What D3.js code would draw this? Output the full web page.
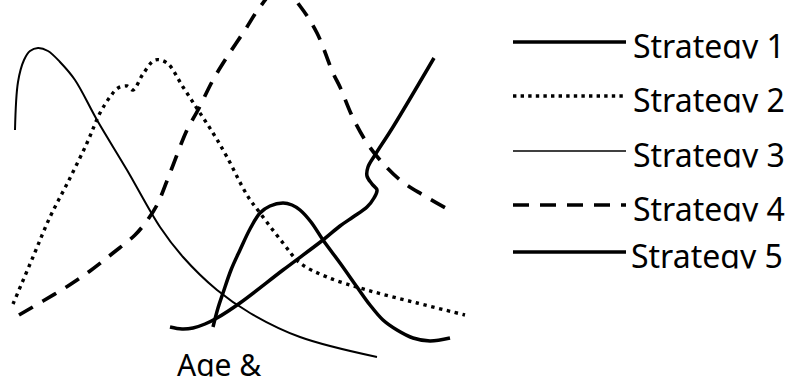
<!DOCTYPE html>
<html>
<head>
<meta charset="utf-8">
<script src="https://cdn.jsdelivr.net/npm/d3@7"></script>
<style>
  body { margin: 0; background: #fff; }
  svg { display: block; }
  text { font-family: "Noto Sans", "Open Sans", sans-serif; fill: #000; }
</style>
</head>
<body>
<svg class="chart"></svg>
<script>
var width = 787;
var height = 383;

// strategy names (legend order)
var strategies = ["Strategy 1", "Strategy 2", "Strategy 3", "Strategy 4", "Strategy 5"];

// x / y values of each curve (x: 0-46, y: 0-36)
var s1x = [20.3, 20.8, 21.3, 22.1, 23.0, 24.0, 25.0, 26.0, 27.3, 28.2, 29.0, 30.1, 31.3, 33.0, 34.7, 36.0, 37.3, 38.7, 40.3, 42.0, 44.0];
var s1y = [3.3, 5.2, 6.7, 9.0, 11.0, 13.1, 14.7, 15.4, 15.7, 15.5, 15.0, 13.8, 12.0, 9.7, 7.3, 5.5, 4.0, 3.0, 2.2, 1.9, 2.2];

var s2x = [0.3, 2.3, 4.0, 5.8, 7.7, 9.0, 10.0, 10.8, 11.7, 12.3, 13.3, 14.5, 15.7, 17.3, 18.8, 20.3, 21.7, 23.7, 25.0, 27.3, 29.0, 31.7, 35.7, 40.7, 45.5];
var s2y = [5.6, 10.3, 14.3, 17.8, 21.7, 24.7, 26.3, 27.2, 27.4, 27.0, 28.6, 30.0, 29.7, 27.3, 25.0, 22.7, 20.3, 16.5, 14.7, 11.7, 9.7, 8.3, 7.0, 5.7, 4.5];

var s3x = [0.5, 0.8, 1.4, 2.0, 2.8, 3.8, 5.0, 6.5, 8.7, 11.7, 15.0, 17.3, 20.7, 24.0, 29.0, 36.7];
var s3y = [23.0, 27.8, 30.0, 30.9, 31.2, 30.9, 29.8, 28.0, 24.0, 19.0, 13.3, 10.3, 7.0, 4.7, 2.3, 0.3];

var s4x = [0.9, 3.3, 5.8, 8.0, 10.3, 12.5, 13.6, 14.7, 16.0, 17.7, 18.8, 20.3, 21.7, 23.5, 25.0, 27.1, 29.0, 30.7, 32.3, 33.0, 34.3, 35.7, 37.0, 39.0, 41.3, 44.3];
var s4y = [4.5, 5.9, 7.4, 8.9, 10.7, 12.5, 13.8, 15.5, 18.7, 23.0, 25.0, 28.0, 30.3, 33.0, 35.3, 37.5, 35.4, 32.7, 28.7, 27.3, 24.2, 21.7, 20.0, 18.0, 16.5, 14.8];

var s5x = [16.0, 17.2, 18.3, 19.5, 20.7, 23.0, 27.3, 31.3, 33.0, 34.3, 35.7, 36.4, 36.7, 36.2, 35.7, 35.8, 36.5, 38.3, 42.4];
var s5y = [3.3, 3.1, 3.2, 3.6, 4.2, 5.7, 9.0, 12.0, 13.4, 14.3, 15.3, 16.2, 17.0, 17.6, 18.4, 19.3, 20.5, 23.3, 30.2];

// bottom label
var xLabel = "Age &";

// legend row positions and line styles
var legendRowY = [42, 96, 151, 205, 252];
var styles = [
  {w: 3.5, dash: null, lw: 3.3, ldash: null},
  {w: 3.4, dash: "3.4,4.6", lw: 3.4, ldash: "3.4,4.2"},
  {w: 2, dash: null, lw: 1.6, ldash: null},
  {w: 3.7, dash: "16,11", lw: 3.6, ldash: "16,11"},
  {w: 3.5, dash: null, lw: 3.3, ldash: null}
];

var xs = [s1x, s2x, s3x, s4x, s5x];
var ys = [s1y, s2y, s3y, s4y, s5y];
var series = strategies.map(function(name, i) {
  return {name: name, points: xs[i].map(function(v, j) { return [v, ys[i][j]]; })};
});

var svg = d3.select(".chart")
  .attr("width", width)
  .attr("height", height);

var x = d3.scaleLinear()
  .domain([0, 46])
  .range([10, 470]);

var y = d3.scaleLinear()
  .domain([0, 36])
  .range([360, 0]);

var line = d3.line()
  .x(function(d) { return x(d[0]); })
  .y(function(d) { return y(d[1]); })
  .curve(d3.curveCatmullRom.alpha(0.5));

// the curves
svg.selectAll("path.curve")
  .data(series)
  .enter().append("path")
  .attr("class", "curve")
  .attr("d", function(d) { return line(d.points); })
  .style("fill", "none")
  .style("stroke", "#000")
  .style("stroke-width", function(d, i) { return styles[i].w; })
  .style("stroke-dasharray", function(d, i) { return styles[i].dash; })
  .style("stroke-linejoin", "round");

// legend - text boxes cut off at the baseline like in the original
var defs = svg.append("defs");
var legend = svg.selectAll("g.legend")
  .data(strategies)
  .enter().append("g")
  .attr("class", "legend");

legend.append("line")
  .attr("x1", 513)
  .attr("x2", 626)
  .attr("y1", function(d, i) { return legendRowY[i]; })
  .attr("y2", function(d, i) { return legendRowY[i]; })
  .style("stroke", "#000")
  .style("stroke-width", function(d, i) { return styles[i].lw; })
  .style("stroke-dasharray", function(d, i) { return styles[i].ldash; });

legend.each(function(d, i) {
  var base = legendRowY[i] + 16;
  defs.append("clipPath")
    .attr("id", "clip" + i)
    .append("rect")
    .attr("x", 620).attr("y", base - 40)
    .attr("width", 170).attr("height", 40.5);
});

legend.append("text")
  .attr("x", function(d, i) { return i == 4 ? 631 : 633; })
  .attr("y", function(d, i) { return legendRowY[i] + 16; })
  .attr("clip-path", function(d, i) { return "url(#clip" + i + ")"; })
  .style("font-size", "32px")
  .text(function(d) { return d; });

defs.append("clipPath")
  .attr("id", "clipAge")
  .append("rect")
  .attr("x", 150).attr("y", 330)
  .attr("width", 150).attr("height", 46.5);

svg.append("text")
  .attr("x", 177)
  .attr("y", 376)
  .attr("clip-path", "url(#clipAge)")
  .style("font-size", "30px")
  .text(xLabel);
</script>
</body>
</html>
